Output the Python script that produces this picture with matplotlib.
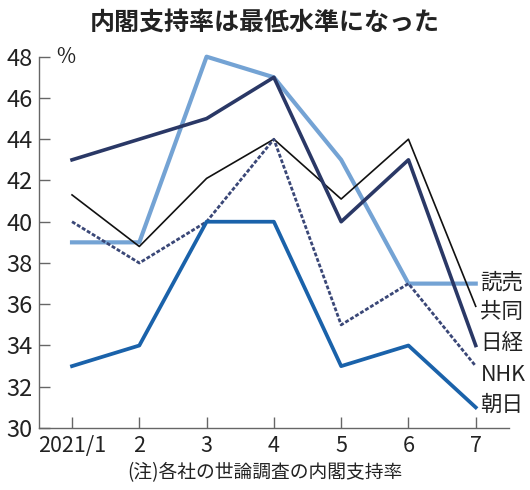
import matplotlib
matplotlib.use("Agg")
import matplotlib.pyplot as plt

plt.rcParams['font.family'] = ['Liberation Sans Narrow', 'Noto Sans CJK JP', 'DejaVu Sans']

# data
months = ["2021/1", "2", "3", "4", "5", "6", "7"]
yomiuri = [39, 39, 48, 47, 43, 37, 37]
nikkei = [43, 44, 45, 47, 40, 43, 34]
kyodo = [41.3, 38.8, 42.1, 44, 41.1, 44, 35.9]
nhk = [40, 38, 40, 44, 35, 37, 33]
asahi = [33, 34, 40, 40, 33, 34, 31]
yticks = [30, 32, 34, 36, 38, 40, 42, 44, 46, 48]

title = "内閣支持率は最低水準になった"
note = "(注)各社の世論調査の内閣支持率"

fig = plt.figure(figsize=(5.3, 4.9), dpi=100)
ax = fig.add_axes([0.0742, 0.1265, 0.8856, 0.7578])

x = list(range(len(months)))

# lines
ax.plot(x, kyodo, color="#111111", lw=1.2, clip_on=False, zorder=3)
ax.plot(x, nhk, color="#3a4777", lw=2.0, ls=(0, (1.4, 0.7)), clip_on=False, zorder=3)
ax.plot(x, asahi, color="#1a62aa", lw=2.7, clip_on=False, zorder=4)
ax.plot(x, yomiuri, color="#74a3d4", lw=3.0, clip_on=False, zorder=2)
ax.plot(x, nikkei, color="#2a3866", lw=2.6, clip_on=False, zorder=3)

# series labels
labels = [("読売", 37.05), ("共同", 35.6), ("日経", 34.1), ("NHK", 32.55), ("朝日", 31.1)]
for txt, yy in labels:
    ax.text(6.07, yy, txt, fontsize=15.5, va="center", ha="left",
            family=['Noto Sans CJK JP', 'DejaVu Sans'], color="#222222")

ax.set_xlim(-0.486, 6.49)
ax.set_ylim(30, 48)
ax.set_xticks(x)
ax.set_xticklabels(months)
ax.set_yticks(yticks)

for s in ["top", "right"]:
    ax.spines[s].set_visible(False)
for s in ["left", "bottom"]:
    ax.spines[s].set_color("#666666")
    ax.spines[s].set_linewidth(1.0)

ax.tick_params(axis="both", direction="in", length=8, width=1.0, color="#666666",
               labelsize=17, labelcolor="#222222")
ax.tick_params(axis="y", pad=5)
ax.tick_params(axis="x", pad=5, labelsize=15.5)

ax.text(0.035, 48, "%", transform=ax.get_yaxis_transform(), fontsize=15,
        va="center", ha="left", color="#222222")

fig.text(0.5, 0.953, title, fontsize=18, fontweight="bold", ha="center", va="center",
         family=['Noto Sans CJK JP', 'DejaVu Sans'], color="#222222")
fig.text(0.5, 0.035, note, fontsize=13.5, ha="center", va="center",
         family=['Noto Sans CJK JP', 'DejaVu Sans'], color="#222222")

fig.savefig("out.png", dpi=100, facecolor="white")
